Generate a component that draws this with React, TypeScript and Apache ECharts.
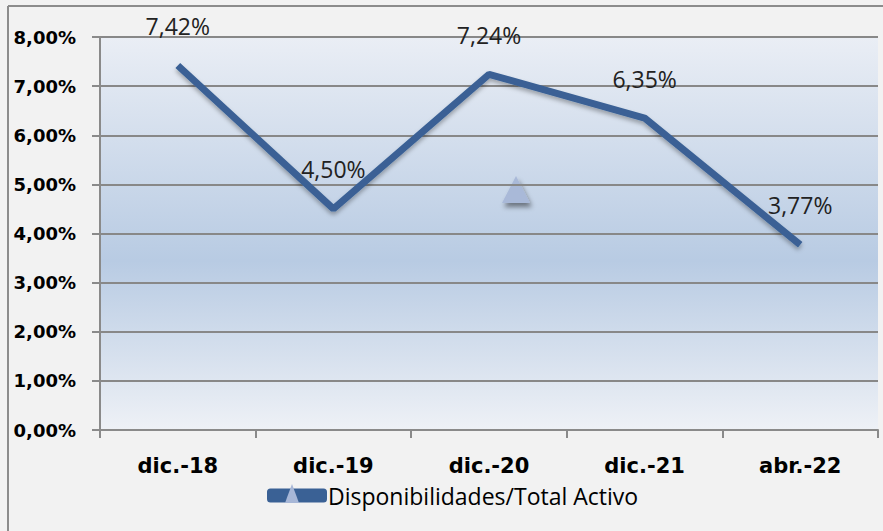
import React, { useEffect, useRef } from "react";
import * as echarts from "echarts";

const categories = ["dic.-18", "dic.-19", "dic.-20", "dic.-21", "abr.-22"];
const values = [7.42, 4.5, 7.24, 6.35, 3.77];
const seriesName = "Disponibilidades/Total Activo";

const fmt = (v: number) => v.toFixed(2).replace(".", ",") + "%";

export default function App() {
  const ref = useRef<HTMLDivElement>(null);
  useEffect(() => {
    if (!ref.current) return;
    const chart = echarts.init(ref.current, null, { renderer: "svg" });
    chart.setOption({
      animation: false,
      backgroundColor: "#f2f2f2",
      textStyle: { fontFamily: "Open Sans" },
      grid: {
        left: 100,
        right: 5,
        top: 37,
        bottom: 101,
        z: -1,
        show: true,
        borderWidth: 0,
        backgroundColor: new echarts.graphic.LinearGradient(0, 0, 0, 1, [
          { offset: 0, color: "#eaeef5" },
          { offset: 0.57, color: "#b8cbe3" },
          { offset: 1, color: "#eef1f6" },
        ]),
      },
      legend: {
        left: 262,
        top: 479,
        itemWidth: 60,
        itemHeight: 14,
        itemGap: 4,
        icon: "roundRect",
        textStyle: { fontSize: 23, color: "#000", fontFamily: "Open Sans", padding: [0, 0, 0, -4] },
        data: [{ name: seriesName, itemStyle: { color: "#3a6195" } }],
      },
      xAxis: {
        type: "category",
        data: categories,
        boundaryGap: true,
        z: 3,
        axisLine: { lineStyle: { color: "#8a8a8a", width: 2 } },
        axisTick: { show: true, length: 8, lineStyle: { color: "#8a8a8a", width: 2 } },
        axisLabel: {
          fontSize: 21,
          fontWeight: "bold",
          color: "#000",
          margin: 25,
          fontFamily: "DejaVu Sans",
        },
      },
      yAxis: {
        type: "value",
        min: 0,
        max: 8,
        interval: 1,
        z: 1,
        axisLine: { show: true, lineStyle: { color: "#8a8a8a", width: 2 } },
        axisTick: { show: true, length: 8, lineStyle: { color: "#8a8a8a", width: 2 } },
        axisLabel: {
          formatter: (v: number) => fmt(v),
          fontSize: 18,
          fontWeight: "bold",
          color: "#000",
          margin: 24,
          fontFamily: "DejaVu Sans",
        },
        splitLine: {
          show: true,
          lineStyle: { color: "#888888", width: 2 },
        },
      },
      series: [
        {
          name: seriesName,
          type: "line",
          data: values,
          z: 5,
          symbol: "circle",
          symbolSize: 0.1,
          showSymbol: true,
          lineStyle: {
            color: "#3a6195",
            width: 7,
            shadowColor: "rgba(0,0,0,0.3)",
            shadowBlur: 4,
            shadowOffsetY: 3,
          },
          itemStyle: { color: "#3a6195" },
          label: {
            show: true,
            position: "top",
            distance: 28,
            fontSize: 23,
            color: "#222",
            fontFamily: "Open Sans",
            formatter: (p: any) => fmt(p.value),
          },
        },
      ],
      graphic: [
        {
          type: "line",
          shape: { x1: 8, y1: 6, x2: 883, y2: 6 },
          style: { stroke: "#8c8c8c", lineWidth: 2 },
        },
        {
          type: "line",
          shape: { x1: 8, y1: 6, x2: 8, y2: 531 },
          style: { stroke: "#8c8c8c", lineWidth: 2 },
        },
        {
          type: "polygon",
          shape: { points: [[516, 176], [530, 203], [502, 203]] },
          style: {
            fill: "#a9b9d8",
            shadowColor: "rgba(0,0,0,0.45)",
            shadowBlur: 5,
            shadowOffsetX: 2,
            shadowOffsetY: 4,
          },
        },
        {
          type: "polygon",
          z: 100,
          shape: { points: [[292, 484], [299, 503], [285, 503]] },
          style: { fill: "#a7b7d7" },
        },
      ],
    });
    return () => chart.dispose();
  }, []);
  return (
    <div
      ref={ref}
      style={{ position: "absolute", left: 0, top: 0, width: 883, height: 531 }}
    />
  );
}
